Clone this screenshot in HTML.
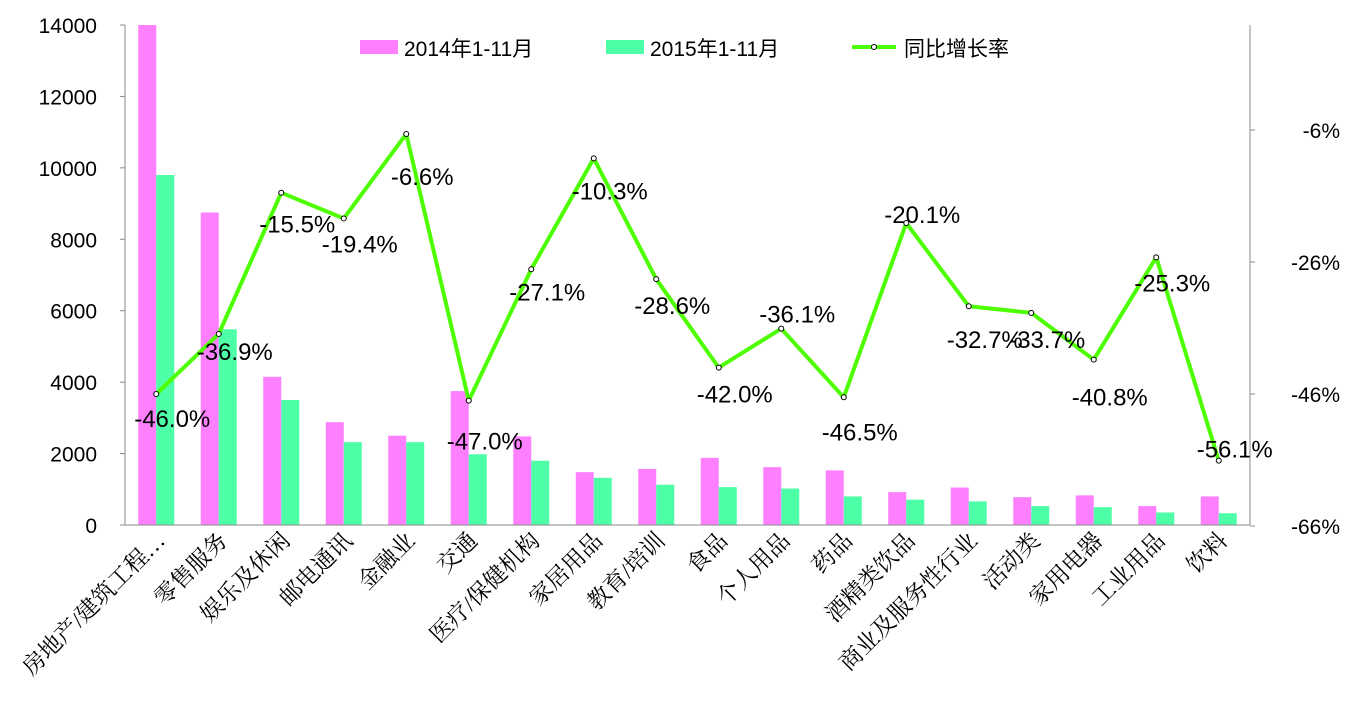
<!DOCTYPE html>
<html><head><meta charset="utf-8"><style>
html,body{margin:0;padding:0;background:#fff;}
svg{display:block;font-family:"Liberation Sans","Noto Sans CJK SC",sans-serif;}
</style></head><body>
<svg id="chart" width="1359" height="718">
<g id="grid"></g>
<g id="bars"></g>
<g id="line"></g>
<g id="labels"></g>
<g id="axes"></g>
<g>
<rect x="360" y="40" width="38" height="14" fill="#ff80ff"/>
<text x="404" y="56" font-size="21" fill="#000">2014年1-11月</text>
<rect x="606" y="40" width="38" height="14" fill="#4dffa6"/>
<text x="650" y="56" font-size="21" fill="#000">2015年1-11月</text>
<line x1="852" y1="47" x2="896" y2="47" stroke="#4dff00" stroke-width="4"/>
<circle cx="874" cy="47" r="2.5" fill="#fff" stroke="#000" stroke-width="1"/>
<text x="904" y="56" font-size="21" fill="#000">同比增长率</text>
</g>
</svg>
<script>
const categories=["房地产/建筑工程…","零售服务","娱乐及休闲","邮电通讯","金融业","交通","医疗/保健机构","家居用品","教育/培训","食品","个人用品","药品","酒精类饮品","商业及服务性行业","活动类","家用电器","工业用品","饮料"];
const v2014=[14100,8750,4150,2880,2500,3750,2480,1480,1570,1880,1620,1530,920,1050,780,830,530,800];
const v2015=[9800,5480,3500,2320,2320,1980,1800,1320,1130,1060,1020,800,710,660,530,500,350,330];
const rates=[-46.0,-36.9,-15.5,-19.4,-6.6,-47.0,-27.1,-10.3,-28.6,-42.0,-36.1,-46.5,-20.1,-32.7,-33.7,-40.8,-25.3,-56.1];
const leftTicks=[0,2000,4000,6000,8000,10000,12000,14000];
const rightTicks=[-66,-46,-26,-6];
const labelDy=[24,17,31,25,42,40,22,32,26,26,-15,34,-9,33,26,37,25,-12];

const NS="http://www.w3.org/2000/svg";
const x0=125,x1=1250,yBase=525,yTop=25;
const step=(x1-x0)/categories.length;
const yL=v=>yBase-(v/14000)*(yBase-yTop);
const yR=r=>130-(r+6)*6.6;
const xc=i=>x0+step*(i+0.5);
function mk(tag,attrs,parent){const e=document.createElementNS(NS,tag);for(const k in attrs)e.setAttribute(k,attrs[k]);parent.appendChild(e);return e;}
const bars=document.getElementById('bars'),line=document.getElementById('line'),labels=document.getElementById('labels'),axes=document.getElementById('axes');
const bw=18;
categories.forEach((c,i)=>{
  const h1=Math.max(yTop,yL(v2014[i]));
  const r1=mk('rect',{x:xc(i)-bw,y:h1,width:bw,height:yBase-h1,fill:'#ff80ff'},bars);
  
  
  const h2=yL(v2015[i]);
  const r2=mk('rect',{x:xc(i),y:h2,width:bw,height:yBase-h2,fill:'#4dffa6'},bars);
  
  
  const t=mk('text',{transform:`translate(${xc(i)+10},542) rotate(-45)`,'text-anchor':'end','font-size':23,fill:'#000','font-family':'"Liberation Serif","Noto Serif CJK SC",serif'},labels);
  t.textContent=c;
  
  
});
const pts=rates.map((r,i)=>xc(i)+','+yR(r)).join(' ');
const pl=mk('polyline',{points:pts,fill:'none',stroke:'#4dff00','stroke-width':4,'stroke-linejoin':'round'},line);


rates.forEach((r,i)=>{
  const c=mk('circle',{cx:xc(i),cy:yR(r),r:2.5,fill:'#fff',stroke:'#000','stroke-width':1},line);
  
  
  const t=mk('text',{x:xc(i)+16,y:yR(r)+labelDy[i]+9,'text-anchor':'middle','font-size':24,fill:'#000'},labels);
  t.textContent=r.toFixed(1)+'%';
  
  
});
const la=mk('line',{x1:x0,y1:yTop,x2:x0,y2:yBase,stroke:'#888','stroke-width':1},axes);


const ra=mk('line',{x1:x1,y1:yTop,x2:x1,y2:yBase,stroke:'#888','stroke-width':1},axes);


const xa=mk('line',{x1:x0,y1:yBase,x2:x1,y2:yBase,stroke:'#888','stroke-width':1},axes);


leftTicks.forEach(v=>{
  mk('line',{x1:x0-5,y1:yL(v),x2:x0,y2:yL(v),stroke:'#888'},axes);
  const t=mk('text',{x:97,y:yL(v)+8,'text-anchor':'end','font-size':21,fill:'#000'},axes);
  t.textContent=v;
  
  
});
rightTicks.forEach(v=>{
  mk('line',{x1:x1,y1:yR(v),x2:x1+5,y2:yR(v),stroke:'#888'},axes);
  const t=mk('text',{x:1340,y:yR(v)+8,'text-anchor':'end','font-size':21,fill:'#000'},axes);
  t.textContent=v+'%';
  
  
});
</script>
</body></html>
